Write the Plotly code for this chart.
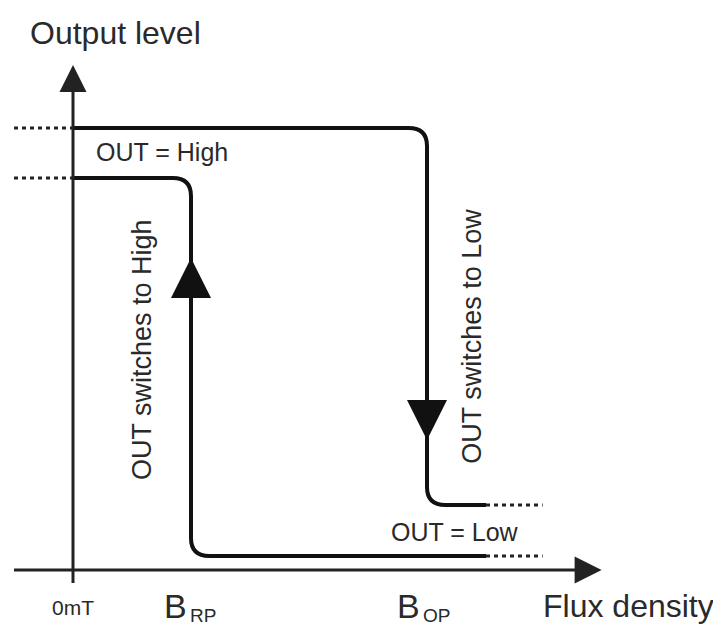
import plotly.graph_objects as go

# ---- schematic data (flux density in arbitrary units, output level in arbitrary units)
b_rp = 1.0          # release point
b_op = 3.0          # operate point
x_axis_span = [-0.5, 4.48]      # flux density axis (start, arrow tip)
y_axis_span = [-0.13, 5.05]     # output level axis (start, arrow tip)
high_levels = [4.42, 3.92]      # OUT = High (upper path, lower path)
low_levels = [0.65, 0.14]       # OUT = Low (upper path, lower path)
path_end_x = 3.5
dotted_end_x = 3.98
dotted_start_x = -0.5
up_arrow_tip = [b_rp, 3.12]
down_arrow_tip = [b_op, 1.30]
point_labels = ["0mT", "B", "B"]
point_subscripts = ["", "RP", "OP"]

# ---- styling
INK = "#111111"
AXIS = "#222222"
TEXT = "#2a2a2a"
FONT = "Liberation Sans, Arial, sans-serif"
RX, RY = 0.155, 0.18     # corner rounding in data units
AX_HEAD_X, AX_HEAD_Y = 0.2, 0.22   # axis line stops under the arrow head

fig = go.Figure()

# axes
fig.add_trace(go.Scatter(x=[x_axis_span[0], x_axis_span[1] - AX_HEAD_X], y=[0, 0], mode="lines",
                         line=dict(color=AXIS, width=3), hoverinfo="skip"))
fig.add_trace(go.Scatter(x=[0, 0], y=[y_axis_span[0], y_axis_span[1] - AX_HEAD_Y], mode="lines",
                         line=dict(color=AXIS, width=3), hoverinfo="skip"))


def rounded_step(x0, y_top, xc, y_bot, x_end):
    return (f"M {x0},{y_top} L {xc - RX},{y_top} Q {xc},{y_top} {xc},{y_top - RY} "
            f"L {xc},{y_bot + RY} Q {xc},{y_bot} {xc + RX},{y_bot} L {x_end},{y_bot}")


shapes = []
# hysteresis paths
shapes.append(dict(type="path", xref="x", yref="y", layer="below",
                   path=rounded_step(0, high_levels[0], b_op, low_levels[0], path_end_x),
                   line=dict(color=INK, width=4)))
shapes.append(dict(type="path", xref="x", yref="y", layer="below",
                   path=rounded_step(0, high_levels[1], b_rp, low_levels[1], path_end_x),
                   line=dict(color=INK, width=4)))
# dotted extensions
for lv in high_levels:
    shapes.append(dict(type="line", xref="x", yref="y", x0=dotted_start_x, x1=0, y0=lv, y1=lv,
                       line=dict(color=AXIS, width=3, dash="4px,4px")))
for lv in low_levels:
    shapes.append(dict(type="line", xref="x", yref="y", x0=path_end_x, x1=dotted_end_x, y0=lv, y1=lv,
                       line=dict(color=AXIS, width=3, dash="4px,4px")))

# all arrow heads (two axis heads + two direction heads on the switching edges)
fig.add_trace(go.Scatter(
    x=[x_axis_span[1], 0, up_arrow_tip[0], down_arrow_tip[0]],
    y=[0, y_axis_span[1], up_arrow_tip[1], down_arrow_tip[1]],
    mode="markers", hoverinfo="skip",
    marker=dict(symbol=["arrow-right", "arrow-up", "arrow-up", "arrow-down"], opacity=1,
                size=[27, 27, 40, 40], color=[AXIS, AXIS, INK, INK], line=dict(width=0)),
))

annotations = []


def label(text, x, y, size, angle=0, xanchor="center", yanchor="middle"):
    annotations.append(dict(text=text, x=x, y=y, xref="x", yref="y", showarrow=False,
                            textangle=angle, xanchor=xanchor, yanchor=yanchor, borderpad=0,
                            font=dict(family=FONT, size=size, color=TEXT)))


label("Output level", 0.356, 5.37, 32)
label("OUT = High", 0.754, 4.18, 25)
label("OUT = Low", 3.24, 0.38, 25)
label("OUT switches to High", 0.585, 2.20, 27, angle=-90)
label("OUT switches to Low", 3.38, 2.34, 27, angle=-90)
label(point_labels[0], 0.0, -0.37, 21)
# B_RP / B_OP : main letter and its subscript
for xb, main, sub in [(0.975, point_labels[1], point_subscripts[1]),
                      (2.95, point_labels[2], point_subscripts[2])]:
    label(main, xb, -0.36, 34, xanchor="right")
    label(sub, xb + 0.005, -0.45, 19, xanchor="left")
label("Flux density", 4.71, -0.36, 32)

# page body has an 8px margin: the plot occupies window pixels 8..721 / 8..628
fig.update_layout(
    width=713, height=620,
    margin=dict(l=0, r=0, t=0, b=0),
    paper_bgcolor="white", plot_bgcolor="white",
    showlegend=False,
    shapes=shapes, annotations=annotations,
    xaxis=dict(range=[(8 - 73) / 118, (721 - 73) / 118], visible=False, fixedrange=True),
    yaxis=dict(range=[(570 - 628) / 100, (570 - 8) / 100], visible=False, fixedrange=True),
)

fig.write_html("out.html")
